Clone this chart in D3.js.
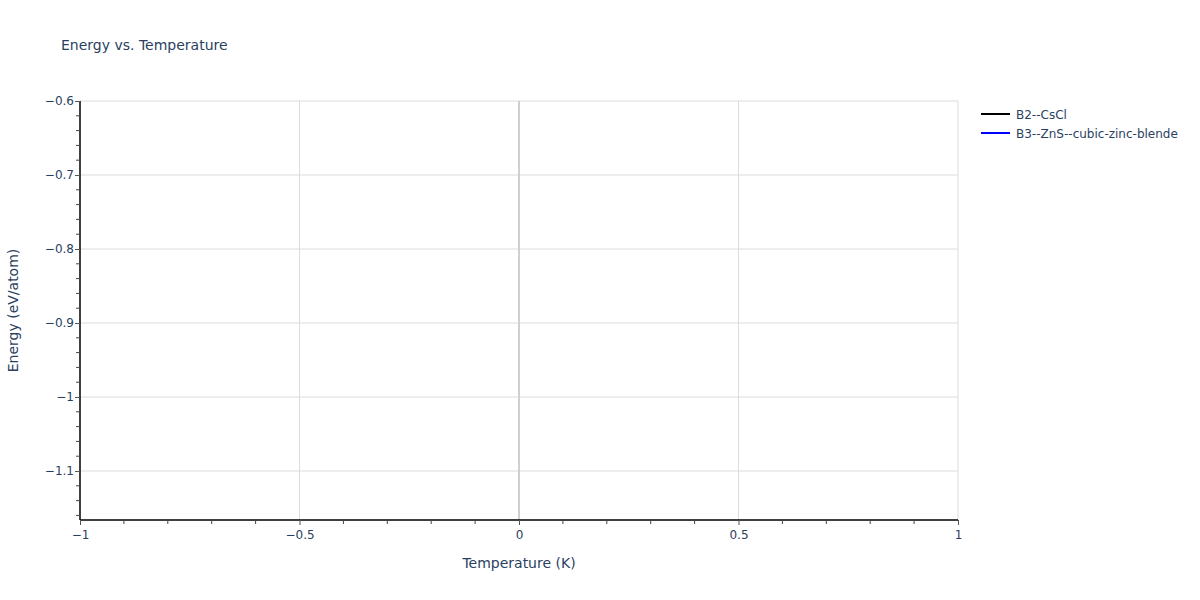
<!DOCTYPE html>
<html>
<head>
<meta charset="utf-8">
<script src="https://cdn.jsdelivr.net/npm/d3@7"></script>
<style>
  html, body { margin: 0; padding: 0; background: #fff; }
  svg text { font-family: "DejaVu Sans", Verdana, sans-serif; fill: #2a3f5f; }
</style>
</head>
<body>
<svg id="chart" width="1200" height="600"></svg>
<script>
// ---- data ----
const seriesNames = ["B2--CsCl", "B3--ZnS--cubic-zinc-blende"];
const seriesColors = ["#000000", "#0000ff"];
const temperatureB2 = [];
const energyB2 = [];
const temperatureB3 = [];
const energyB3 = [];
const xTicks = [-1, -0.5, 0, 0.5, 1];
const yTicks = [-0.6, -0.7, -0.8, -0.9, -1, -1.1];
const xDomain = [-1, 1];
const yDomain = [-1.1662, -0.6];

const svg = d3.select("#chart");
const m = { left: 80, right: 1200 - 958, top: 101, bottom: 600 - 520 };
const W = 1200 - m.left - m.right, H = 600 - m.top - m.bottom;

const x = d3.scaleLinear().domain(xDomain).range([m.left, m.left + W]);
const y = d3.scaleLinear().domain(yDomain).range([m.top + H, m.top]);

const fmt = v => (v < 0 ? "\u2212" : "") + String(Math.abs(v));

// grid
const g = svg.append("g");
g.selectAll("line.gy").data(yTicks).enter().append("line")
  .attr("x1", m.left).attr("x2", m.left + W)
  .attr("y1", d => y(d)).attr("y2", d => y(d))
  .attr("stroke", "#dcdcdc").attr("stroke-width", 1);
g.selectAll("line.gx").data(xTicks.filter(d => d !== 0 && d !== -1)).enter().append("line")
  .attr("y1", m.top).attr("y2", m.top + H)
  .attr("x1", d => x(d)).attr("x2", d => x(d))
  .attr("stroke", "#dcdcdc").attr("stroke-width", 1);
// zero line
g.append("line").attr("x1", x(0)).attr("x2", x(0)).attr("y1", m.top).attr("y2", m.top + H)
  .attr("stroke", "#cfcfcf").attr("stroke-width", 2);

// series
const line = d3.line().x(d => x(d[0])).y(d => y(d[1]));
const data = [d3.zip(temperatureB2, energyB2), d3.zip(temperatureB3, energyB3)];
data.forEach((d, i) => {
  svg.append("path").datum(d).attr("d", line).attr("fill", "none")
    .attr("stroke", seriesColors[i]).attr("stroke-width", 2);
});

// x axis
const xAxis = d3.axisBottom(x).tickValues(xTicks).tickFormat(fmt).tickSize(5).tickPadding(5);
const xa = svg.append("g").attr("transform", `translate(0,${m.top + H})`).call(xAxis);
const xMinor = d3.range(-10, 11).map(i => i / 10).filter(v => !xTicks.some(t => Math.abs(t - v) < 1e-9));
xa.selectAll("line.minor").data(xMinor).enter().append("line")
  .attr("x1", d => x(d)).attr("x2", d => x(d)).attr("y1", 0).attr("y2", 4)
  .attr("stroke", "#444");

// y axis
const yAxis = d3.axisLeft(y).tickValues(yTicks).tickFormat(fmt).tickSize(5).tickPadding(1);
const ya = svg.append("g").attr("transform", `translate(${m.left},0)`).call(yAxis);
const yMinor = d3.range(-58, -29).map(i => i / 50).filter(v => v >= yDomain[0] && v <= yDomain[1] && !yTicks.some(t => Math.abs(t - v) < 1e-9));
ya.selectAll("line.minor").data(yMinor).enter().append("line")
  .attr("y1", d => y(d)).attr("y2", d => y(d)).attr("x1", 0).attr("x2", -4)
  .attr("stroke", "#444");

[xa, ya].forEach(a => {
  a.select(".domain").attr("stroke", "#000").attr("stroke-width", 1.5);
  a.selectAll(".tick line").attr("stroke", "#555");
  a.selectAll(".tick text").style("font-size", "12px").style("fill", "#2a3f5f");
  a.attr("font-family", null);
});
ya.select(".domain").attr("d", `M0,${m.top}V${m.top + H}`);
xa.select(".domain").attr("d", `M${m.left},0H${m.left + W}`);

// titles
svg.append("text").attr("x", 61).attr("y", 50).style("font-size", "14px").text("Energy vs. Temperature");
svg.append("text").attr("x", m.left + W / 2).attr("y", 568).attr("text-anchor", "middle")
  .style("font-size", "14px").text("Temperature (K)");
svg.append("text").attr("transform", `translate(18,${m.top + H / 2}) rotate(-90)`)
  .attr("text-anchor", "middle").style("font-size", "14px").text("Energy (eV/atom)");

// legend
const lg = svg.append("g").attr("transform", "translate(981,114)");
seriesNames.forEach((n, i) => {
  const row = lg.append("g").attr("transform", `translate(0,${i * 19})`);
  row.append("line").attr("x1", 0).attr("x2", 29).attr("y1", 0).attr("y2", 0)
    .attr("stroke", seriesColors[i]).attr("stroke-width", 2);
  row.append("text").attr("x", 35).attr("y", 4.5).style("font-size", "12px").text(n);
});
</script>
</body>
</html>
